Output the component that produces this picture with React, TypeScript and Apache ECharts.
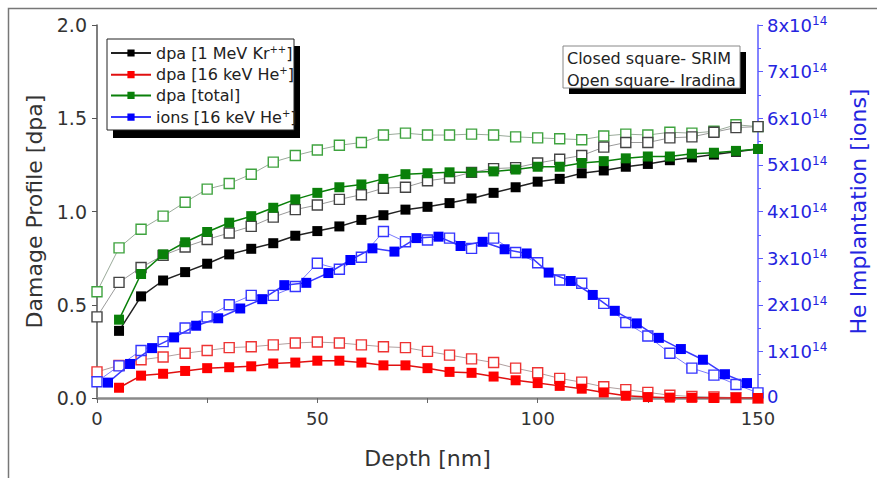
import React, { useEffect, useRef } from 'react';
import * as echarts from 'echarts';

// Depth grids [nm]
const depthIradina = [0, 5, 10, 15, 20, 25, 30, 35, 40, 45, 50, 55, 60, 65, 70, 75, 80, 85, 90, 95, 100, 105, 110, 115, 120, 125, 130, 135, 140, 145, 150];
const depthSrim = [5, 10, 15, 20, 25, 30, 35, 40, 45, 50, 55, 60, 65, 70, 75, 80, 85, 90, 95, 100, 105, 110, 115, 120, 125, 130, 135, 140, 145, 150];
const depthSrimIons = [2.5, 7.5, 12.5, 17.5, 22.5, 27.5, 32.5, 37.5, 42.5, 47.5, 52.5, 57.5, 62.5, 67.5, 72.5, 77.5, 82.5, 87.5, 92.5, 97.5, 102.5, 107.5, 112.5, 117.5, 122.5, 127.5, 132.5, 137.5, 142.5, 147.5];

// SRIM (closed squares) [dpa]
const dpaKrSrim = [0.36, 0.545, 0.63, 0.675, 0.72, 0.77, 0.8, 0.83, 0.87, 0.895, 0.92, 0.955, 0.98, 1.01, 1.025, 1.045, 1.07, 1.1, 1.13, 1.16, 1.175, 1.205, 1.22, 1.24, 1.255, 1.275, 1.29, 1.305, 1.32, 1.335];
const dpaHeSrim = [0.055, 0.12, 0.13, 0.145, 0.16, 0.165, 0.17, 0.185, 0.19, 0.2, 0.2, 0.19, 0.175, 0.175, 0.16, 0.14, 0.135, 0.115, 0.095, 0.08, 0.065, 0.05, 0.03, 0.012, 0.005, 0.002, 0.001, 0, 0, 0];
const dpaTotalSrim = [0.42, 0.665, 0.77, 0.835, 0.89, 0.94, 0.975, 1.02, 1.065, 1.1, 1.13, 1.145, 1.175, 1.2, 1.205, 1.21, 1.21, 1.215, 1.225, 1.24, 1.24, 1.26, 1.27, 1.285, 1.295, 1.295, 1.31, 1.315, 1.325, 1.335];
// He ions, SRIM [x10^14]
const ionsSrim = [0.33, 0.73, 1.07, 1.3, 1.55, 1.71, 1.92, 2.12, 2.42, 2.47, 2.68, 2.96, 3.21, 3.14, 3.43, 3.46, 3.26, 3.35, 3.19, 3.1, 2.69, 2.51, 2.21, 1.87, 1.6, 1.29, 1.05, 0.82, 0.51, 0.32];

// Iradina (open squares) [dpa]
const dpaKrIradina = [0.435, 0.62, 0.7, 0.765, 0.81, 0.85, 0.885, 0.92, 0.97, 1.01, 1.035, 1.065, 1.09, 1.125, 1.13, 1.165, 1.18, 1.21, 1.23, 1.235, 1.26, 1.28, 1.3, 1.345, 1.37, 1.37, 1.395, 1.4, 1.425, 1.45, 1.455];
const dpaHeIradina = [0.14, 0.175, 0.205, 0.22, 0.24, 0.255, 0.27, 0.275, 0.285, 0.295, 0.3, 0.295, 0.285, 0.275, 0.27, 0.25, 0.23, 0.21, 0.19, 0.16, 0.135, 0.105, 0.085, 0.06, 0.045, 0.03, 0.015, 0.008, 0.005, 0.002, 0];
const dpaTotalIradina = [0.57, 0.805, 0.905, 0.975, 1.05, 1.12, 1.15, 1.2, 1.265, 1.3, 1.33, 1.355, 1.37, 1.41, 1.42, 1.41, 1.41, 1.415, 1.41, 1.4, 1.395, 1.39, 1.385, 1.405, 1.415, 1.41, 1.425, 1.42, 1.43, 1.465, 1.455];
// He ions, Iradina [x10^14]
const ionsIradina = [0.35, 0.69, 1.02, 1.21, 1.5, 1.74, 2.0, 2.2, 2.2, 2.39, 2.89, 2.76, 3.02, 3.57, 3.35, 3.39, 3.43, 3.21, 3.43, 3.12, 2.9, 2.53, 2.46, 2.03, 1.62, 1.33, 0.96, 0.64, 0.49, 0.29, 0.11];

const legendNames = ['dpa [1 MeV Kr++]', 'dpa [16 keV He+]', 'dpa [total]', 'ions [16 keV He+]'];
const legendRich: Record<string, string> = {
  'dpa [1 MeV Kr++]': '{t|dpa [1 MeV Kr}{s|++}{t|]}',
  'dpa [16 keV He+]': '{t|dpa [16 keV He}{s|+}{t|]}',
  'dpa [total]': '{t|dpa [total]}',
  'ions [16 keV He+]': '{t|ions [16 keV He}{s|+}{t|]}',
};

const FONT = 'DejaVu Sans';
const BLUE = '#2424e0';

function pairs(xs: number[], ys: number[]) {
  return xs.map((x, i) => [x, ys[i]]);
}

function openSeries(name: string, xs: number[], ys: number[], color: string, lineColor: string, yAxisIndex = 0) {
  return {
    type: 'line',
    name,
    yAxisIndex,
    data: pairs(xs, ys),
    symbol: 'rect',
    symbolSize: 10,
    itemStyle: { color: '#fff', borderColor: color, borderWidth: 1.4 },
    lineStyle: { color: lineColor, width: 1 },
    z: 2,
  };
}

function closedSeries(name: string, xs: number[], ys: number[], color: string, lineColor: string, yAxisIndex = 0) {
  return {
    type: 'line',
    name,
    yAxisIndex,
    data: pairs(xs, ys),
    symbol: 'rect',
    symbolSize: 10,
    itemStyle: { color },
    lineStyle: { color: lineColor, width: 1.5 },
    z: 3,
  };
}

export default function App() {
  const ref = useRef<HTMLDivElement>(null);
  useEffect(() => {
    if (!ref.current) return;
    const chart = echarts.init(ref.current, undefined, { renderer: 'svg' });
    const option: any = {
      animation: false,
      backgroundColor: '#fff',
      textStyle: { fontFamily: FONT },
      grid: { left: 97, right: 117, top: 25, bottom: 80, containLabel: false },
      xAxis: {
        type: 'value',
        min: 0,
        max: 150,
        interval: 25,
        name: 'Depth [nm]',
        nameLocation: 'middle',
        nameGap: 49,
        nameTextStyle: { fontSize: 22, color: '#333', fontFamily: FONT },
        axisLine: { show: true, lineStyle: { color: '#8a8a8a', width: 2.5 } },
        axisTick: { show: true, inside: false, length: 5, lineStyle: { color: '#666', width: 1 } },
        axisLabel: {
          fontSize: 18,
          color: '#333',
          margin: 11,
          fontFamily: FONT,
          formatter: (v: number) => (v % 50 === 0 ? String(v) : ''),
        },
        splitLine: { show: false },
      },
      yAxis: [
        {
          type: 'value',
          min: 0,
          max: 2,
          interval: 0.5,
          position: 'left',
          name: 'Damage Profile [dpa]',
          nameLocation: 'middle',
          nameGap: 48,
          nameRotate: 90,
          nameTextStyle: { fontSize: 22, color: '#333', fontFamily: FONT },
          axisLine: { show: true, lineStyle: { color: '#555', width: 1.5 } },
          axisTick: { show: true, inside: false, length: 5, lineStyle: { color: '#555' } },
          axisLabel: { fontSize: 19, color: '#333', margin: 10, fontFamily: FONT, formatter: (v: number) => v.toFixed(1) },
          splitLine: { show: false },
        },
        {
          type: 'value',
          min: 0,
          max: 8,
          interval: 1,
          position: 'right',
          name: 'He Implantation [ions]',
          nameLocation: 'middle',
          nameGap: 89,
          nameRotate: 90,
          nameTextStyle: { fontSize: 22, color: BLUE, fontFamily: FONT },
          axisLine: { show: true, lineStyle: { color: '#5a5aff', width: 1.5 } },
          axisTick: { show: true, inside: false, length: 5, lineStyle: { color: '#5a5aff' } },
          minorTick: { show: true, splitNumber: 2, length: 3, lineStyle: { color: '#5a5aff' } },
          axisLabel: {
            margin: 9,
            fontFamily: FONT,
            formatter: (v: number) => (v === 0 ? '{z|0}' : `{m|${v}x10}{s|14}`),
            rich: {
              z: { fontSize: 18, color: BLUE, fontFamily: FONT, lineHeight: 16, padding: [0, 0, 4, 0] },
              m: { fontSize: 18, color: BLUE, fontFamily: FONT, lineHeight: 20 },
              s: { fontSize: 12, color: BLUE, fontFamily: FONT, lineHeight: 12, verticalAlign: 'top' },
            },
          },
          splitLine: { show: false },
        },
      ],
      legend: {
        data: legendNames,
        orient: 'vertical',
        left: 110,
        top: 44,
        padding: 0,
        itemGap: 4.7,
        itemWidth: 40,
        itemHeight: 9,
        itemTextGap: 5,
        z: 10,
        formatter: (name: string) => legendRich[name] || name,
        textStyle: {
          fontFamily: FONT,
          rich: {
            t: { fontSize: 16, color: '#222', fontFamily: FONT, lineHeight: 18 },
            s: { fontSize: 10, color: '#222', fontFamily: FONT, lineHeight: 10, verticalAlign: 'top' },
          },
        },
      },
      graphic: [
        { type: 'polyline', z: 0, shape: { points: [[8.5, 478], [8.5, 8.5], [877, 8.5]] }, style: { stroke: '#777', lineWidth: 1.5, fill: null } },
        { type: 'rect', z: 0, shape: { x: 113, y: 46, width: 187, height: 92 }, style: { fill: '#000' } },
        { type: 'rect', z: 1, shape: { x: 107, y: 39, width: 187, height: 91 }, style: { fill: '#fff', stroke: '#222', lineWidth: 1 } },
        { type: 'rect', z: 0, shape: { x: 569, y: 52, width: 177, height: 42 }, style: { fill: '#000' } },
        { type: 'rect', z: 1, shape: { x: 563, y: 46, width: 177, height: 42 }, style: { fill: '#fff', stroke: '#888', lineWidth: 1 } },
        { type: 'text', z: 2, x: 567, y: 58, style: { text: 'Closed square- SRIM', font: `16px "${FONT}"`, fill: '#222', textVerticalAlign: 'middle', verticalAlign: 'middle' } },
        { type: 'text', z: 2, x: 567, y: 80, style: { text: 'Open square- Iradina', font: `16px "${FONT}"`, fill: '#222', textVerticalAlign: 'middle', verticalAlign: 'middle' } },
      ],
      series: [
        openSeries('Iradina total', depthIradina, dpaTotalIradina, '#3fa33f', '#9aaa9a'),
        openSeries('Iradina Kr', depthIradina, dpaKrIradina, '#444', '#9a9a9a'),
        openSeries('Iradina He', depthIradina, dpaHeIradina, '#ee3333', '#b0a0a0'),
        openSeries('Iradina ions', depthIradina, ionsIradina, '#3535ff', '#7a7aff', 1),
        closedSeries('dpa [1 MeV Kr++]', depthSrim, dpaKrSrim, '#000', '#222'),
        closedSeries('dpa [16 keV He+]', depthSrim, dpaHeSrim, '#ff0000', '#e01010'),
        closedSeries('dpa [total]', depthSrim, dpaTotalSrim, '#0a800a', '#0a800a'),
        closedSeries('ions [16 keV He+]', depthSrimIons, ionsSrim, '#0000ff', '#3a3aff', 1),
      ],
    };
    chart.setOption(option);
    return () => chart.dispose();
  }, []);
  return <div ref={ref} style={{ position: 'fixed', left: 0, top: 0, width: 877, height: 478, background: '#fff' }} />;
}
